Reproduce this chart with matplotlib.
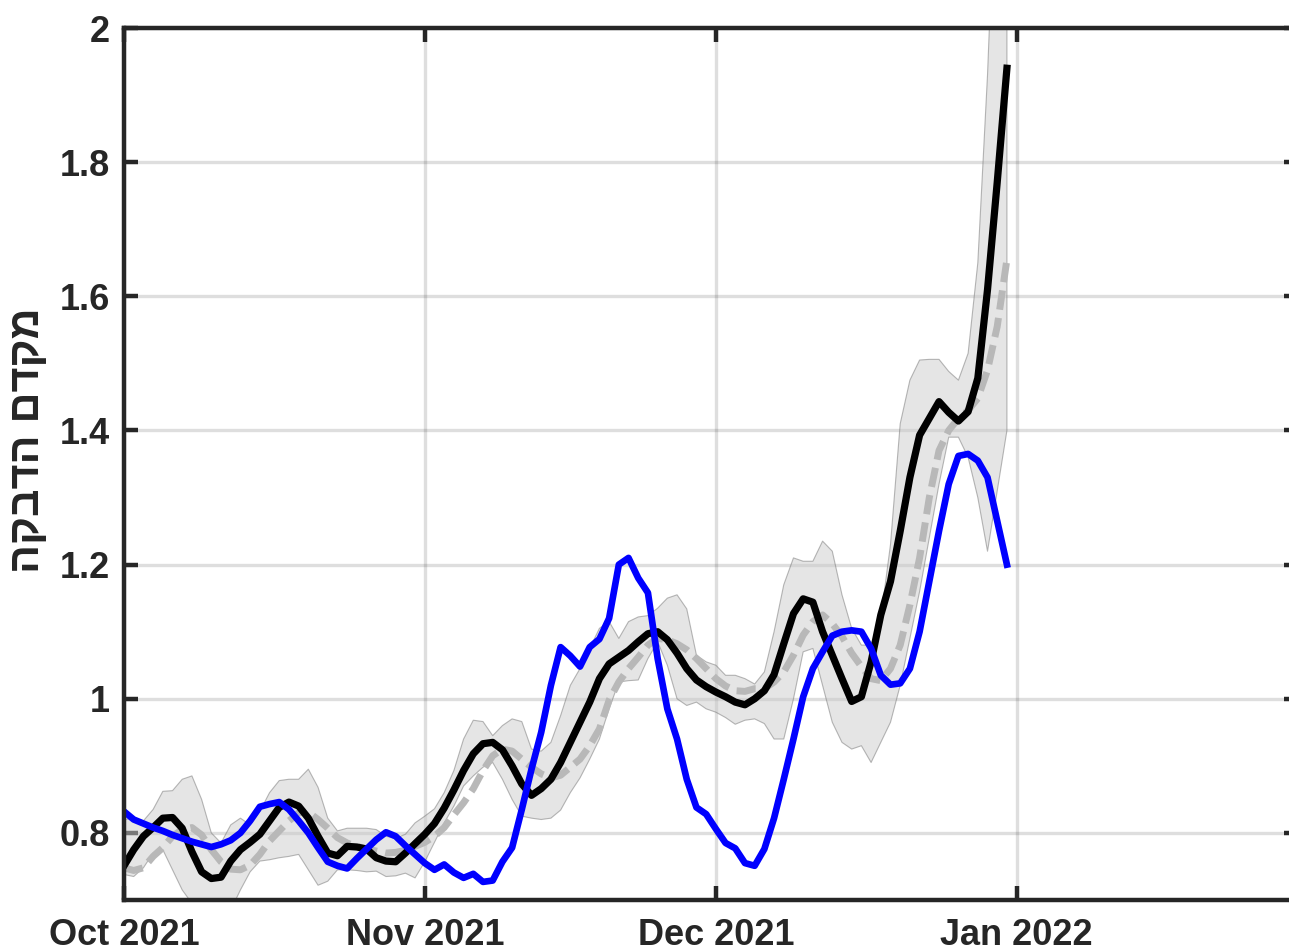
import numpy as np
import pandas as pd
import matplotlib
matplotlib.use("Agg")
import matplotlib.pyplot as plt
import matplotlib.dates as mdates

plt.rcParams["font.family"] = ["Liberation Sans", "DejaVu Sans"]
plt.rcParams["font.weight"] = "bold"

# Daily estimates, 1 Oct 2021 - 31 Dec 2021
dates = pd.date_range("2021-10-01", "2021-12-31", freq="D")

r_black = [
    0.751, 0.775, 0.795, 0.808, 0.822, 0.823, 0.807, 0.772, 0.742, 0.732,
    0.734, 0.758, 0.775, 0.786, 0.798, 0.818, 0.838, 0.846, 0.840, 0.822,
    0.795, 0.770, 0.766, 0.780, 0.779, 0.776, 0.763, 0.758, 0.757, 0.770,
    0.784, 0.798, 0.814, 0.837, 0.864, 0.893, 0.918, 0.933, 0.935, 0.924,
    0.900, 0.873, 0.856, 0.866, 0.880, 0.905, 0.935, 0.965, 0.995, 1.030,
    1.052, 1.062, 1.072, 1.085, 1.097, 1.100, 1.088, 1.068, 1.045, 1.028,
    1.018, 1.010, 1.003, 0.995, 0.991, 1.000, 1.012, 1.036, 1.082, 1.127,
    1.149, 1.144, 1.100, 1.065, 1.030, 0.996, 1.003, 1.055, 1.125, 1.175,
    1.250, 1.330, 1.393, 1.418, 1.443, 1.427, 1.414, 1.428, 1.478, 1.610,
    1.770, 1.940,
]

r_blue = [
    0.832, 0.820, 0.814, 0.808, 0.803, 0.797, 0.792, 0.787, 0.783, 0.779,
    0.783, 0.789, 0.800, 0.818, 0.839, 0.843, 0.846, 0.835, 0.818, 0.800,
    0.778, 0.757, 0.751, 0.747, 0.762, 0.776, 0.790, 0.801, 0.795, 0.781,
    0.768, 0.755, 0.745, 0.753, 0.741, 0.733, 0.739, 0.727, 0.729, 0.757,
    0.778, 0.835, 0.895, 0.950, 1.020, 1.077, 1.064, 1.048, 1.077, 1.089,
    1.120, 1.200, 1.210, 1.180, 1.158, 1.060, 0.985, 0.940, 0.880, 0.838,
    0.828, 0.806, 0.785, 0.777, 0.755, 0.751, 0.776, 0.822, 0.880, 0.940,
    1.003, 1.045, 1.070, 1.094, 1.100, 1.102, 1.100, 1.075, 1.035, 1.021,
    1.023, 1.045, 1.100, 1.175, 1.250, 1.320, 1.362, 1.365, 1.355, 1.330,
    1.265, 1.200,
]

r_mean = [
    0.748, 0.744, 0.748, 0.765, 0.778, 0.795, 0.805, 0.808, 0.797, 0.775,
    0.757, 0.746, 0.745, 0.752, 0.768, 0.788, 0.803, 0.818, 0.830, 0.831,
    0.820, 0.807, 0.793, 0.785, 0.780, 0.776, 0.773, 0.770, 0.771, 0.774,
    0.780, 0.786, 0.795, 0.808, 0.827, 0.845, 0.866, 0.893, 0.915, 0.925,
    0.922, 0.910, 0.898, 0.888, 0.882, 0.886, 0.898, 0.910, 0.930, 0.955,
    0.998, 1.025, 1.045, 1.062, 1.080, 1.090, 1.088, 1.082, 1.073, 1.060,
    1.045, 1.030, 1.019, 1.012, 1.011, 1.015, 1.015, 1.025, 1.040, 1.065,
    1.095, 1.115, 1.125, 1.112, 1.093, 1.068, 1.048, 1.030, 1.027, 1.045,
    1.080, 1.140, 1.210, 1.300, 1.370, 1.400, 1.418, 1.430, 1.448, 1.490,
    1.555, 1.655,
]

r_low = [
    0.738, 0.735, 0.748, 0.770, 0.775, 0.745, 0.715, 0.695, 0.680, 0.670,
    0.670, 0.685, 0.715, 0.742, 0.758, 0.760, 0.763, 0.765, 0.768, 0.745,
    0.722, 0.728, 0.745, 0.745, 0.744, 0.742, 0.743, 0.735, 0.736, 0.740,
    0.733, 0.757, 0.786, 0.815, 0.840, 0.870, 0.885, 0.898, 0.905, 0.880,
    0.850, 0.825, 0.822, 0.820, 0.822, 0.834, 0.860, 0.882, 0.910, 0.940,
    0.985, 1.025, 1.027, 1.028, 1.060, 1.085, 1.050, 1.000, 0.990, 0.995,
    0.985, 0.980, 0.972, 0.962, 0.968, 0.970, 0.963, 0.940, 0.940, 1.000,
    1.070, 1.075, 1.020, 0.965, 0.935, 0.925, 0.930, 0.905, 0.935, 0.965,
    1.020, 1.090, 1.160, 1.240, 1.320, 1.390, 1.390, 1.360, 1.300, 1.220,
    1.310, 1.400,
]

r_high = [
    0.820, 0.822, 0.818, 0.835, 0.862, 0.863, 0.880, 0.885, 0.850, 0.800,
    0.785, 0.812, 0.822, 0.812, 0.832, 0.860, 0.878, 0.880, 0.880, 0.895,
    0.868, 0.822, 0.803, 0.807, 0.807, 0.807, 0.805, 0.795, 0.792, 0.798,
    0.815, 0.825, 0.836, 0.860, 0.893, 0.940, 0.968, 0.966, 0.945, 0.960,
    0.970, 0.966, 0.925, 0.922, 0.935, 0.975, 1.020, 1.045, 1.075, 1.105,
    1.115, 1.090, 1.115, 1.122, 1.124, 1.135, 1.150, 1.155, 1.134, 1.065,
    1.055, 1.050, 1.035, 1.035, 1.030, 1.022, 1.040, 1.100, 1.170, 1.210,
    1.205, 1.205, 1.235, 1.220, 1.155, 1.105, 1.080, 1.080, 1.120, 1.230,
    1.410, 1.475, 1.505, 1.506, 1.506, 1.488, 1.475, 1.515, 1.650, 1.930,
    2.300, 2.600,
]

ylabel_text = "הקבדה םדקמ"   # "מקדם הדבקה" in visual (left-to-right) order
ink = "#262626"

fig = plt.figure(figsize=(12.89, 9.52), dpi=100)
ax = fig.add_axes([124 / 1289, 52 / 952, 1174 / 1289, 872 / 952])

ax.fill_between(dates, r_low, r_high, facecolor=(0.8, 0.8, 0.8), alpha=0.5,
                edgecolor=(0.45, 0.45, 0.45), linewidth=0.8, zorder=2)
ax.plot(dates, r_mean, color="#b8b8b8", linewidth=5.0, dashes=(2.8, 1.2),
        zorder=3)
ax.plot(dates, r_black, color="black", linewidth=5.2, zorder=4)
ax.plot(dates, r_blue, color=(0, 0, 1), linewidth=4.8, zorder=5)

ax.set_xlim(pd.Timestamp("2021-10-01"), pd.Timestamp("2022-01-30"))
ax.set_ylim(0.7, 2.0)
ax.set_yticks([0.8, 1.0, 1.2, 1.4, 1.6, 1.8, 2.0])
ax.set_yticklabels(["0.8", "1", "1.2", "1.4", "1.6", "1.8", "2"])
ax.xaxis.set_major_locator(mdates.MonthLocator())
ax.xaxis.set_major_formatter(mdates.DateFormatter("%b %Y"))

ax.grid(True, color="black", alpha=0.13, linewidth=2.4, zorder=1)
ax.set_axisbelow(True)

for s in ax.spines.values():
    s.set_color(ink)
    s.set_linewidth(3.2)
    s.set_zorder(6)

ax.tick_params(axis="both", direction="in", length=10, width=3.2,
               top=True, right=True, colors=ink, labelsize=26)
ax.tick_params(axis="x", pad=13)
ax.tick_params(axis="y", pad=10)
for lbl in ax.get_xticklabels() + ax.get_yticklabels():
    lbl.set_fontweight("bold")

ax.set_ylabel(ylabel_text, fontsize=31, fontweight="bold", color=ink,
              family=["Liberation Sans", "DejaVu Sans"])
ax.yaxis.set_label_coords(-0.065, 0.527)

fig.savefig("out.png", dpi=100)
